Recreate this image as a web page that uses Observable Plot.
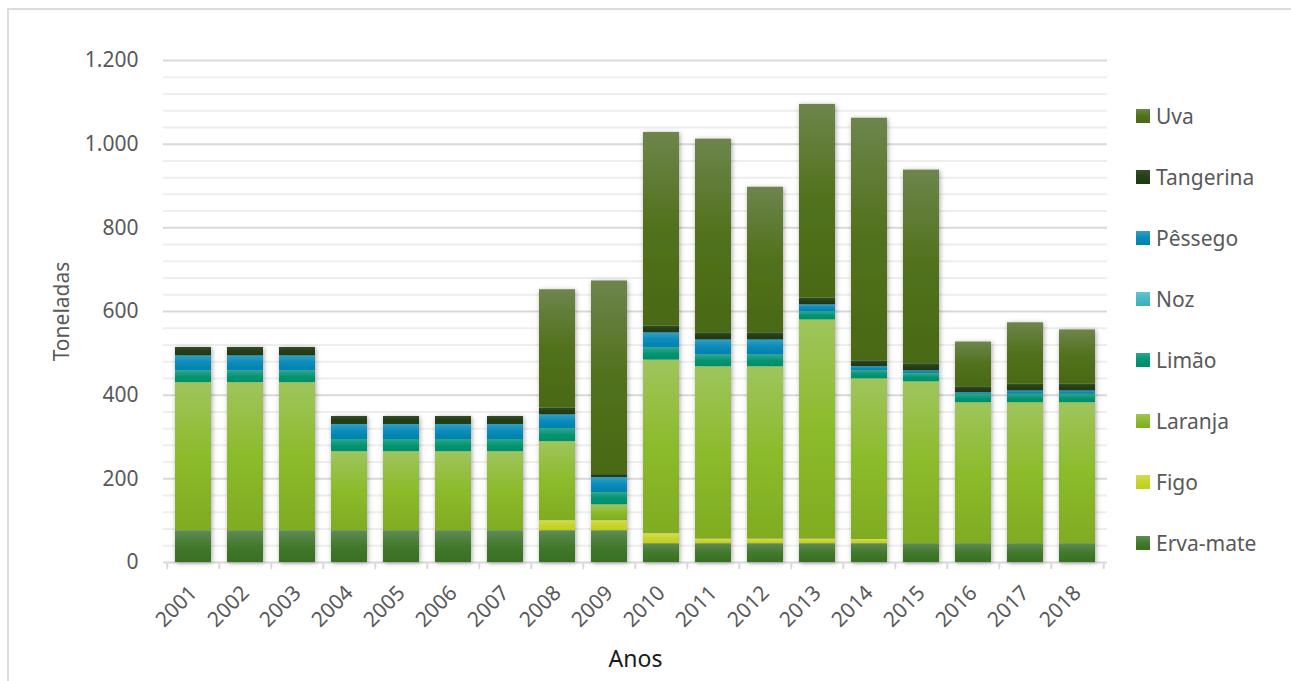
<!DOCTYPE html>
<html>
<head>
<meta charset="utf-8">
<script src="https://cdn.jsdelivr.net/npm/d3@7"></script>
<script src="https://cdn.jsdelivr.net/npm/@observablehq/plot@0.6"></script>
<style>
  html, body { margin: 0; padding: 0; background: #fff; }
  #wrap { position: relative; width: 1291px; height: 681px; overflow: hidden; font-family: "Noto Sans", sans-serif; }
  #frame { position: absolute; left: 7px; top: 8px; width: 1400px; height: 800px; border: 2px solid #dcdcdc; box-sizing: border-box; }
  #chart { position: absolute; left: 0; top: 0; }
  #legend { position: absolute; left: 1136px; top: 0; }
  .item { position: absolute; left: 0; display: flex; align-items: center; white-space: nowrap; color: #595959; font-size: 21px; }
  .sw { width: 14px; height: 14px; margin-right: 6px; }
</style>
</head>
<body>
<div id="wrap">
  <div id="frame"></div>
  <div id="chart"></div>
  <div id="legend"></div>
</div>
<script>
const years = ["2001","2002","2003","2004","2005","2006","2007","2008","2009","2010","2011","2012","2013","2014","2015","2016","2017","2018"];
// stacking order, bottom to top
const series = ["Erva-mate","Figo","Laranja","Limão","Noz","Pêssego","Tangerina","Uva"];

const ervaMate  = [76,76,76,76,76,76,76,76,76,45,45,45,45,45,45,45,45,45];
const figo      = [0,0,0,0,0,0,0,24,24,24,11,11,11,10,0,0,0,0];
const laranja   = [354,354,354,189,189,189,189,189,38,415,412,412,524,384,387,337,337,337];
const limao     = [28,28,28,29,29,29,29,31,29,29,28,28,19,19,19,20,20,20];
const noz       = [0,0,0,0,0,0,0,0,0,0,0,0,0,0,0,0,0,0];
const pessego   = [36,36,36,36,36,36,36,33,36,36,36,36,17,10,7,4,8,8];
const tangerina = [20,20,20,19,19,19,19,16,7,16,17,17,16,14,17,14,16,16];
const uva       = [0,0,0,0,0,0,0,283,463,463,463,348,463,580,463,107,147,130];

const yTicks = [0,200,400,600,800,1000,1200];

// gradient stops per series: [top, middle, bottom]
const gradients = {
  "Erva-mate": ["#5f8c55","#43792c","#367021"],
  "Figo":      ["#d4dc55","#c8d42c","#bfcf1d"],
  "Laranja":   ["#9ec55d","#8cbb2b","#7fac22"],
  "Limão":     ["#31a687","#049575","#008d6c"],
  "Noz":       ["#66c4cf","#4ab8c6","#3aaebe"],
  "Pêssego":   ["#32a0c6","#0a8ab9","#0082b1"],
  "Tangerina": ["#334e27","#233f17","#1c3a10"],
  "Uva":       ["#6d854c","#51711b","#4a6915"]
};

const valuesBySeries = {"Erva-mate": ervaMate, "Figo": figo, "Laranja": laranja, "Limão": limao, "Noz": noz, "Pêssego": pessego, "Tangerina": tangerina, "Uva": uva};

const rows = [];
years.forEach((yr, i) => {
  series.forEach(s => rows.push({year: yr, series: s, value: valuesBySeries[s][i]}));
});

const width = 1291, height = 681;
const mL = 163, mR = 184, mT = 60, mB = 119;
const step = (width - mL - mR) / years.length;

const fmt = d => d3.format(",")(d).replace(/,/g, ".");

const plot = Plot.plot({
  width, height,
  marginTop: mT, marginBottom: mB, marginLeft: mL, marginRight: mR,
  style: {fontFamily: "'Noto Sans', sans-serif", fontSize: "21px", color: "#595959", background: "transparent", overflow: "visible"},
  x: {domain: years, paddingInner: 0.31, paddingOuter: 0.155, label: null},
  y: {domain: [0, 1200], label: null},
  color: {domain: series, range: series.map((s, i) => `url(#grad${i})`)},
  marks: [
    Plot.ruleY(d3.range(0, 1201, 40).filter(v => v % 200 !== 0), {stroke: "#eeeeee", strokeWidth: 2}),
    Plot.ruleY(yTicks, {stroke: "#d9d9d9", strokeWidth: 2}),
    Plot.ruleX(years, {x: d => d, y1: 0, y2: -17, dx: -step / 2, stroke: "#d9d9d9", strokeWidth: 2}),
    Plot.ruleX([years[years.length - 1]], {x: d => d, y1: 0, y2: -17, dx: step / 2, stroke: "#d9d9d9", strokeWidth: 2}),
    Plot.barY(rows, Plot.stackY({x: "year", y: "value", z: "series", order: series, fill: "series"})),
    Plot.axisY({ticks: yTicks, tickFormat: fmt, tickSize: 0, tickPadding: 25, fontSize: 21, label: null}),
    Plot.axisX({tickRotate: -45, tickSize: 0, tickPadding: 27, fontSize: 21, label: null}),
    Plot.text(["Toneladas"], {frameAnchor: "left", textAnchor: "middle", dx: -101, rotate: -90, text: d => d, fontSize: 21, fill: "#595959"}),
    Plot.text(["Anos"], {frameAnchor: "bottom", textAnchor: "middle", dy: 104, text: d => d, fontSize: 23, fill: "#1a1a1a"})
  ]
});

// gradients and shadow
const svg = d3.select(plot);
const defs = svg.insert("defs", ":first-child");
series.forEach((s, i) => {
  const g = defs.append("linearGradient").attr("id", `grad${i}`).attr("x1", 0).attr("y1", 0).attr("x2", 0).attr("y2", 1);
  const c = gradients[s];
  g.append("stop").attr("offset", "0%").attr("stop-color", c[0]);
  g.append("stop").attr("offset", "50%").attr("stop-color", c[1]);
  g.append("stop").attr("offset", "100%").attr("stop-color", c[2]);
});
const f = defs.append("filter").attr("id", "shadow").attr("x", "-5%").attr("y", "-5%").attr("width", "110%").attr("height", "110%");
f.append("feDropShadow").attr("dx", 1).attr("dy", 1).attr("stdDeviation", 2.5).attr("flood-color", "#000").attr("flood-opacity", 0.35);
svg.select('g[aria-label="bar"]').attr("filter", "url(#shadow)");

document.getElementById("chart").appendChild(plot);

// legend (top to bottom: reverse stacking order)
const legend = document.getElementById("legend");
const legendOrder = series.slice().reverse();
legendOrder.forEach((s, i) => {
  const item = document.createElement("div");
  item.className = "item";
  item.style.top = (116 + i * 61 - 15) + "px";
  item.style.height = "30px";
  const sw = document.createElement("span");
  sw.className = "sw";
  const c = gradients[s];
  sw.style.background = `linear-gradient(${c[0]}, ${c[1]} 50%, ${c[2]})`;
  const t = document.createElement("span");
  t.textContent = s;
  item.appendChild(sw);
  item.appendChild(t);
  legend.appendChild(item);
});
</script>
</body>
</html>
